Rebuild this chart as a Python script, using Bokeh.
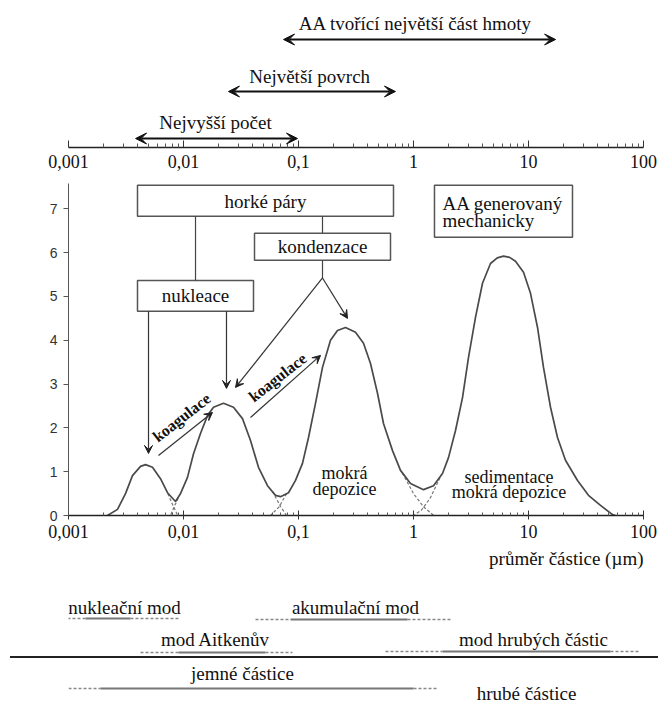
import math
from bokeh.plotting import figure
from bokeh.models import (FixedTicker, CustomJSTickFormatter, Arrow, VeeHead,
                          Label, Range1d, Div)
from bokeh.layouts import column
from bokeh.embed import file_html
from bokeh.resources import INLINE
from bokeh.core.properties import value

# ---------------- data: volume size distribution ----------------
size_um = [0.002183, 0.002668, 0.003131, 0.003601, 0.004228, 0.004673, 0.005376, 0.006310,
           0.007260, 0.008520, 0.009417, 0.01083, 0.01222, 0.01405, 0.01617, 0.01823,
           0.02227, 0.02721, 0.03258, 0.03825, 0.04490, 0.05376, 0.06310, 0.06975,
           0.08185, 0.09417, 0.1083, 0.1222, 0.1405, 0.1617, 0.1898, 0.2183, 0.2563,
           0.3131, 0.3675, 0.4228, 0.4864, 0.5483, 0.6569, 0.7709, 0.9417, 1.222, 1.492,
           1.787, 2.015, 2.319, 2.668, 3.009, 3.460, 3.981, 4.673, 5.35, 6.062, 6.85,
           7.709, 9.049, 10.41, 11.98, 13.50, 15.54, 17.87, 20.97, 26.68, 33.23, 42.28,
           53.76, 57.08]
dv_dlogdp = [0.0, 0.14, 0.5, 0.91, 1.12, 1.16, 1.10, 0.84, 0.52, 0.32, 0.5, 0.87, 1.41,
             1.87, 2.28, 2.47, 2.56, 2.47, 2.21, 1.71, 1.10, 0.68, 0.46, 0.43, 0.52, 0.80,
             1.19, 1.78, 2.56, 3.38, 4.0, 4.22, 4.29, 4.18, 3.93, 3.47, 2.79, 2.10, 1.48,
             1.03, 0.73, 0.59, 0.68, 0.96, 1.32, 1.94, 2.69, 3.61, 4.52, 5.30, 5.75, 5.88,
             5.92, 5.89, 5.80, 5.55, 5.07, 4.29, 3.38, 2.47, 1.78, 1.26, 0.80, 0.46, 0.23,
             0.02, 0.0]

# dashed continuations of the individual modes below the minima
mode_tails_x = [[0.0073, 0.0082, 0.0089], [0.0094, 0.0083, 0.0077],
                [0.0595, 0.0700, 0.0787], [0.0787, 0.0680, 0.0571],
                [0.80, 1.0, 1.22, 1.5], [1.70, 1.40, 1.17, 1.0]]
mode_tails_y = [[0.5, 0.2, 0.0], [0.5, 0.2, 0.0],
                [0.55, 0.2, 0.0], [0.5, 0.2, 0.0],
                [0.97, 0.5, 0.2, 0.0], [0.86, 0.4, 0.12, 0.0]]

decade_ticks = [0.001, 0.01, 0.1, 1, 10, 100]
y_ticks = [0, 1, 2, 3, 4, 5, 6, 7]

# ranges over which each quantity dominates (top arrows), in um
range_labels = ["AA tvořící největší část hmoty", "Největší povrch", "Nejvyšší počet"]
range_lo = [0.0741, 0.0246, 0.00383]
range_hi = [17.2, 0.697, 0.098]

# modes (bottom): dashed-start, solid-start, solid-end, dashed-end (um)
upper_modes = ["nukleační mod", "akumulační mod", "mod Aitkenův", "mod hrubých částic"]
upper_d0 = [0.00098, 0.04227, 0.004228, 0.5706]
upper_s0 = [0.001406, 0.0852, 0.009048, 1.787]
upper_s1 = [0.003459, 0.8867, 0.05164, 51.64]
upper_d1 = [0.009417, 2.098, 0.08867, 90.5]
upper_label_x = [0.003069, 0.3131, 0.01898, 11.05]

lower_modes = ["jemné částice", "hrubé částice"]
lower_label_x = [0.03258, 9.608]
fine_d0, fine_s0, fine_s1, fine_d1 = [0.000905], [0.001898], [1.0], [1.650]

SERIF_NAME = "Liberation Serif"
SERIF = value(SERIF_NAME)
W = 658
BL = 68
BR = 15
ticks_minor = [k * 10.0 ** e for e in range(-3, 2) for k in range(2, 10)]
fmt = CustomJSTickFormatter(code="return String(tick).replace('.', ',');")


def style_log_axis(axis, tin, tout, minor_in):
    axis.ticker = FixedTicker(ticks=decade_ticks, minor_ticks=ticks_minor)
    axis.formatter = fmt
    axis.major_tick_in = tin
    axis.major_tick_out = tout
    axis.minor_tick_in = minor_in
    axis.minor_tick_out = 0
    axis.axis_line_width = 1.5
    axis.axis_line_color = "#222"
    axis.major_tick_line_color = "#333"
    axis.minor_tick_line_color = "#555"
    axis.major_label_text_font = SERIF_NAME
    axis.major_label_text_font_size = "18px"
    axis.major_label_text_color = "#111"


def strip(height, ymax):
    f = figure(width=W, height=height, x_axis_type="log",
               x_range=Range1d(0.001, 100), y_range=Range1d(0, ymax),
               x_axis_location=None, y_axis_location=None,
               output_backend="svg", toolbar_location=None,
               min_border_left=BL, min_border_right=BR, min_border_top=0, min_border_bottom=0)
    f.grid.visible = False
    f.outline_line_color = None
    return f


# ---------------- top strip: ranges + top axis ----------------
ptop = figure(width=W, height=178, x_axis_type="log",
              x_range=Range1d(0.001, 100), y_range=Range1d(0, 147),
              y_axis_location=None, output_backend="svg", toolbar_location=None,
              min_border_left=BL, min_border_right=BR, min_border_top=0, min_border_bottom=31)
ptop.grid.visible = False
ptop.outline_line_color = None
style_log_axis(ptop.xaxis[0], 7, 0, 4)
ptop.xaxis[0].major_label_standoff = 7

arrow_y = [108, 56, 9]
label_y = [124, 71, 25]
label_x = [1.04, 0.125, 0.019]
for lo, hi, ay in zip(range_lo, range_hi, arrow_y):
    ptop.add_layout(Arrow(start=VeeHead(size=11, fill_color="#111", line_color="#111"),
                          end=VeeHead(size=11, fill_color="#111", line_color="#111"),
                          x_start=lo, y_start=ay, x_end=hi, y_end=ay,
                          line_width=2.2, line_color="#111"))
ptop.text(x=label_x, y=label_y, text=range_labels, text_font=SERIF,
          text_font_size="19px", text_align="center", text_baseline="middle", text_color="#111")

# ---------------- main plot ----------------
p = figure(width=W, height=369, x_axis_type="log",
           x_range=Range1d(0.001, 100), y_range=Range1d(0, 7.69),
           output_backend="svg", toolbar_location=None,
           min_border_left=BL, min_border_right=BR, min_border_top=0, min_border_bottom=32)
p.grid.visible = False
p.outline_line_color = None

style_log_axis(p.xaxis[0], 5, 4, 3)
p.xaxis[0].major_label_standoff = 5

ya = p.yaxis[0]
ya.ticker = FixedTicker(ticks=y_ticks)
ya.bounds = (0, 7.58)
ya.major_tick_in = 0
ya.major_tick_out = 5
ya.minor_tick_line_color = None
ya.axis_line_color = "#555"
ya.major_tick_line_color = "#555"
ya.major_label_text_font = "Liberation Sans"
ya.major_label_text_font_size = "14px"
ya.major_label_text_color = "#333"
ya.major_label_standoff = 6

p.add_layout(Label(x=-33, y=4.4, x_units="screen", y_units="data",
                   text="ΔV/Δlog Dₚ (µm³/cm³)", angle=math.pi / 2,
                   text_align="center", text_baseline="middle",
                   text_font="Liberation Sans", text_font_size="11px", text_color="#333"))

# mode continuations and curve
p.multi_line(xs=mode_tails_x, ys=mode_tails_y, line_color="#777", line_width=1.2,
             line_dash="3 2")
p.line(size_um, dv_dlogdp, line_color="#4a4a4a", line_width=1.7)

# process boxes
box_left = [0.003981, 0.04144, 0.003981, 1.522]
box_right = [0.6701, 0.631, 0.04062, 24.13]
box_bottom = [6.826, 5.822, 4.658, 6.347]
box_top = [7.534, 6.438, 5.365, 7.534]
p.quad(left=box_left, right=box_right, bottom=box_bottom, top=box_top,
       fill_color="white", line_color="#555", line_width=1.5)
p.text(x=[0.05165, 0.1617, 0.01272], y=[7.17, 6.13, 5.01],
       text=["horké páry", "kondenzace", "nukleace"], text_font=SERIF,
       text_font_size="19px", text_align="center", text_baseline="middle", text_color="#111")
p.text(x=[1.787, 1.787], y=[7.12, 6.74], text=["AA generovaný", "mechanicky"],
       text_font=SERIF, text_font_size="19px", text_align="left",
       text_baseline="middle", text_color="#111")

# connectors
p.segment(x0=[0.01272, 0.1617, 0.1617], y0=[6.826, 6.826, 5.822],
          x1=[0.01272, 0.1617, 0.1617], y1=[5.365, 6.438, 5.42],
          line_color="#444", line_width=1.2)

arrows = [((0.004963, 4.658), (0.004963, 1.416)),
          ((0.02365, 4.658), (0.02365, 2.9)),
          ((0.1617, 5.42), (0.02833, 2.922)),
          ((0.1617, 5.42), (0.2668, 4.498)),
          ((0.006062, 1.37), (0.01787, 2.352)),
          ((0.03825, 2.237), (0.1554, 3.653))]
for (xs0, ys0), (xs1, ys1) in arrows:
    p.add_layout(Arrow(end=VeeHead(size=8, fill_color="#222", line_color="#222"),
                       x_start=xs0, y_start=ys0, x_end=xs1, y_end=ys1,
                       line_color="#333", line_width=1.2))

p.text(x=[0.00961, 0.06567], y=[2.237, 3.151], text=["koagulace", "koagulace"],
       angle=[math.radians(38), math.radians(38)], text_font=SERIF,
       text_font_size="16px", text_font_style="bold", text_align="center",
       text_baseline="middle", text_color="#111")
p.text(x=[0.2512, 0.2512, 6.77, 6.77], y=[0.98, 0.61, 0.87, 0.525],
       text=["mokrá", "depozice", "sedimentace", "mokrá depozice"], text_font=SERIF,
       text_font_size="18px", text_align="center", text_baseline="middle", text_color="#111")

# ---------------- bottom strips: x label + modes ----------------
pb1 = strip(109, 109)
pb1.text(x=[100], y=[98], text=["průměr částice (µm)"], text_font=SERIF,
         text_font_size="19px", text_align="right", text_baseline="middle", text_color="#111")
up_line_y = [38, 37, 4, 5]
up_text_y = [49, 49, 17, 17]
pb1.segment(x0=upper_d0, y0=up_line_y, x1=upper_s0, y1=up_line_y, line_color="#888",
            line_width=1.5, line_dash="3 2")
pb1.segment(x0=upper_s1, y0=up_line_y, x1=upper_d1, y1=up_line_y, line_color="#888",
            line_width=1.5, line_dash="3 2")
pb1.segment(x0=upper_s0, y0=up_line_y, x1=upper_s1, y1=up_line_y, line_color="#777",
            line_width=2)
pb1.text(x=upper_label_x, y=up_text_y, text=upper_modes, text_font=SERIF,
         text_font_size="19px", text_align="center", text_baseline="middle", text_color="#111")

divider = Div(text="", width=W - 10, height=2, margin=(0, 0, 0, 10),
              styles={"background-color": "#222"})

pb2 = strip(47, 47)
pb2.segment(x0=fine_d0, y0=[17], x1=fine_s0, y1=[17], line_color="#888",
            line_width=1.5, line_dash="3 2")
pb2.segment(x0=fine_s1, y0=[17], x1=fine_d1, y1=[17], line_color="#888",
            line_width=1.5, line_dash="3 2")
pb2.segment(x0=fine_s0, y0=[17], x1=fine_s1, y1=[17], line_color="#777", line_width=2)
pb2.text(x=lower_label_x, y=[32, 12], text=lower_modes, text_font=SERIF,
         text_font_size="19px", text_align="center", text_baseline="middle", text_color="#111")

layout = column(ptop, p, pb1, divider, pb2)
open("out.html", "w").write(file_html(layout, INLINE))
